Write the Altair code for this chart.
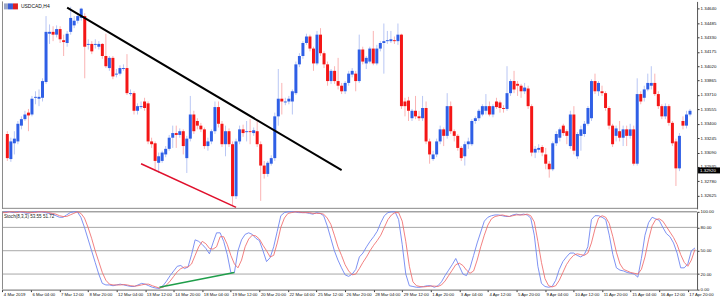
import json
import altair as alt
import pandas as pd

# ---------------- data ----------------
OPEN = [1.3329,1.3302,1.3319,1.3321,1.3338,1.3345,1.3352,1.3350,1.3368,1.3367,
1.3368,1.3385,1.3437,1.3439,1.3436,1.3442,1.3430,1.3427,1.3439,1.3446,
1.3451,1.3454,1.3456,1.3425,1.3426,1.3425,1.3423,1.3426,1.3413,1.3400,
1.3411,1.3393,1.3394,1.3399,1.3400,1.3372,1.3373,1.3354,1.3358,1.3364,
1.3362,1.3321,1.3319,1.3298,1.3300,1.3307,1.3313,1.3325,1.3330,1.3328,
1.3332,1.3303,1.3324,1.3350,1.3343,1.3338,1.3334,1.3316,1.3321,1.3332,
1.3358,1.3340,1.3318,1.3332,1.3318,1.3262,1.3321,1.3334,1.3331,1.3332,
1.3330,1.3332,1.3318,1.3295,1.3286,1.3297,1.3303,1.3348,1.3367,1.3363,
1.3364,1.3364,1.3373,1.3404,1.3413,1.3427,1.3434,1.3421,1.3405,1.3436,
1.3416,1.3404,1.3386,1.3397,1.3386,1.3381,1.3375,1.3384,1.3393,1.3394,
1.3386,1.3420,1.3405,1.3407,1.3421,1.3405,1.3421,1.3427,1.3429,1.3429,
1.3430,1.3429,1.3436,1.3364,1.3365,1.3346,1.3354,1.3348,1.3346,1.3357,
1.3321,1.3302,1.3307,1.3321,1.3334,1.3327,1.3359,1.3332,1.3327,1.3314,
1.3305,1.3318,1.3318,1.3343,1.3346,1.3350,1.3354,1.3359,1.3350,1.3364,
1.3363,1.3357,1.3356,1.3373,1.3386,1.3383,1.3381,1.3375,1.3378,1.3359,
1.3309,1.3312,1.3315,1.3307,1.3297,1.3291,1.3319,1.3325,1.3338,1.3332,
1.3316,1.3350,1.3305,1.3327,1.3329,1.3340,1.3346,1.3386,1.3375,1.3375,
1.3373,1.3357,1.3338,1.3327,1.3332,1.3325,1.3334,1.3327,1.3334,1.3297,
1.3372,1.3368,1.3377,1.3381,1.3384,1.3372,1.3359,1.3348,1.3359,1.3341,
1.3321,1.3292,1.3343,1.3338,1.3350]

HIGH = [1.3332,1.3325,1.3332,1.3343,1.3348,1.3354,1.3356,1.3370,1.3375,1.3377,
1.3389,1.3456,1.3447,1.3445,1.3446,1.3445,1.3436,1.3440,1.3466,1.3456,
1.3459,1.3465,1.3459,1.3431,1.3429,1.3431,1.3429,1.3427,1.3437,1.3413,
1.3413,1.3399,1.3403,1.3404,1.3415,1.3377,1.3375,1.3362,1.3364,1.3368,
1.3364,1.3325,1.3321,1.3309,1.3311,1.3316,1.3328,1.3338,1.3338,1.3335,
1.3334,1.3327,1.3370,1.3354,1.3346,1.3341,1.3336,1.3325,1.3334,1.3364,
1.3364,1.3343,1.3338,1.3335,1.3321,1.3324,1.3338,1.3339,1.3343,1.3345,
1.3336,1.3343,1.3321,1.3300,1.3300,1.3306,1.3352,1.3399,1.3384,1.3368,
1.3370,1.3377,1.3407,1.3416,1.3429,1.3437,1.3436,1.3423,1.3440,1.3443,
1.3418,1.3407,1.3399,1.3402,1.3411,1.3384,1.3386,1.3397,1.3400,1.3397,
1.3436,1.3423,1.3413,1.3423,1.3440,1.3425,1.3429,1.3448,1.3440,1.3440,
1.3434,1.3448,1.3437,1.3368,1.3369,1.3356,1.3370,1.3354,1.3370,1.3364,
1.3324,1.3311,1.3324,1.3338,1.3336,1.3373,1.3364,1.3334,1.3329,1.3316,
1.3321,1.3325,1.3345,1.3348,1.3356,1.3361,1.3372,1.3364,1.3361,1.3368,
1.3365,1.3360,1.3402,1.3388,1.3397,1.3386,1.3383,1.3384,1.3381,1.3361,
1.3316,1.3318,1.3317,1.3314,1.3300,1.3321,1.3332,1.3336,1.3340,1.3334,
1.3354,1.3359,1.3331,1.3338,1.3343,1.3359,1.3388,1.3394,1.3386,1.3381,
1.3375,1.3359,1.3340,1.3338,1.3343,1.3338,1.3338,1.3340,1.3338,1.3389,
1.3375,1.3381,1.3394,1.3402,1.3394,1.3375,1.3361,1.3362,1.3361,1.3343,
1.3324,1.3330,1.3348,1.3354,1.3356]

LOW = [1.3300,1.3299,1.3307,1.3318,1.3334,1.3343,1.3332,1.3348,1.3361,1.3359,
1.3364,1.3383,1.3426,1.3429,1.3433,1.3427,1.3413,1.3423,1.3436,1.3443,
1.3448,1.3451,1.3389,1.3420,1.3415,1.3421,1.3420,1.3410,1.3400,1.3397,
1.3388,1.3390,1.3392,1.3397,1.3371,1.3370,1.3350,1.3350,1.3356,1.3354,
1.3318,1.3314,1.3289,1.3287,1.3298,1.3304,1.3311,1.3314,1.3314,1.3325,
1.3307,1.3287,1.3321,1.3329,1.3334,1.3331,1.3313,1.3311,1.3318,1.3329,
1.3336,1.3315,1.3305,1.3315,1.3252,1.3259,1.3318,1.3326,1.3321,1.3318,
1.3327,1.3315,1.3257,1.3281,1.3283,1.3295,1.3300,1.3338,1.3350,1.3360,
1.3361,1.3350,1.3371,1.3401,1.3410,1.3425,1.3418,1.3397,1.3403,1.3413,
1.3400,1.3381,1.3383,1.3383,1.3377,1.3372,1.3372,1.3381,1.3390,1.3375,
1.3384,1.3404,1.3399,1.3405,1.3403,1.3403,1.3418,1.3394,1.3426,1.3427,
1.3426,1.3425,1.3356,1.3348,1.3343,1.3343,1.3345,1.3343,1.3343,1.3318,
1.3297,1.3300,1.3304,1.3318,1.3316,1.3324,1.3329,1.3321,1.3311,1.3300,
1.3295,1.3313,1.3316,1.3340,1.3343,1.3348,1.3350,1.3348,1.3347,1.3356,
1.3352,1.3352,1.3354,1.3370,1.3373,1.3370,1.3368,1.3372,1.3356,1.3305,
1.3303,1.3309,1.3305,1.3291,1.3282,1.3289,1.3316,1.3321,1.3327,1.3318,
1.3313,1.3307,1.3302,1.3311,1.3326,1.3338,1.3343,1.3372,1.3370,1.3370,
1.3354,1.3334,1.3315,1.3321,1.3321,1.3316,1.3316,1.3324,1.3295,1.3295,
1.3361,1.3364,1.3375,1.3377,1.3370,1.3356,1.3345,1.3345,1.3338,1.3316,
1.3273,1.3289,1.3334,1.3335,1.3348]

CLOSE = [1.3303,1.3321,1.3324,1.3340,1.3345,1.3350,1.3349,1.3367,1.3369,1.3369,
1.3386,1.3439,1.3439,1.3436,1.3442,1.3431,1.3428,1.3437,1.3454,1.3451,
1.3456,1.3464,1.3423,1.3426,1.3418,1.3426,1.3426,1.3413,1.3402,1.3411,
1.3391,1.3394,1.3400,1.3400,1.3373,1.3373,1.3354,1.3359,1.3359,1.3357,
1.3321,1.3318,1.3300,1.3305,1.3309,1.3313,1.3325,1.3330,1.3328,1.3332,
1.3316,1.3324,1.3350,1.3332,1.3338,1.3334,1.3316,1.3321,1.3332,1.3358,
1.3340,1.3318,1.3332,1.3318,1.3262,1.3321,1.3334,1.3330,1.3332,1.3331,
1.3333,1.3318,1.3295,1.3286,1.3298,1.3303,1.3348,1.3367,1.3364,1.3364,
1.3367,1.3375,1.3404,1.3413,1.3427,1.3434,1.3421,1.3405,1.3436,1.3416,
1.3404,1.3386,1.3397,1.3386,1.3381,1.3375,1.3384,1.3394,1.3397,1.3386,
1.3420,1.3407,1.3411,1.3421,1.3405,1.3421,1.3427,1.3429,1.3430,1.3431,
1.3429,1.3436,1.3359,1.3359,1.3354,1.3354,1.3348,1.3346,1.3357,1.3321,
1.3307,1.3307,1.3321,1.3334,1.3327,1.3359,1.3332,1.3327,1.3314,1.3303,
1.3318,1.3321,1.3343,1.3346,1.3354,1.3359,1.3359,1.3350,1.3359,1.3358,
1.3357,1.3356,1.3373,1.3386,1.3377,1.3381,1.3375,1.3379,1.3359,1.3309,
1.3313,1.3314,1.3309,1.3297,1.3291,1.3319,1.3329,1.3334,1.3330,1.3327,
1.3350,1.3311,1.3329,1.3334,1.3340,1.3357,1.3386,1.3375,1.3384,1.3373,
1.3357,1.3338,1.3318,1.3335,1.3325,1.3334,1.3327,1.3334,1.3297,1.3372,
1.3364,1.3377,1.3384,1.3384,1.3372,1.3359,1.3348,1.3359,1.3341,1.3319,
1.3292,1.3327,1.3338,1.3350,1.3354]

STOCH_K = [99,100,100,99,100,100,99,98,99,100,
100,100,99,98,97,95,93,93,96,99,
100,100,93,80,65,50,35,20,8,6,
6,5,6,7,6,5,4,4,6,8,
7,5,3,2,1.5,5,11,18,24,30,
31,27,29,45,64,62,58,53,46,60,
73,73,62,45,22,22,50,64,71,73,
71,66,63,50,36,41,55,75,95,99,
100,100,100,99,99,99,98,97,99,98,
95,82,66,50,38,28,19,17,20,26,
42,47,55,62,68,75,86,95,99,100,
100,90,58,20,5,4,3,3,4,5,
5,3,5,10,18,25,32,40,30,20,
18,28,44,60,74,88,93,95,96,96,
95,94,94,96,97,96,97,96,92,70,
30,8,4,3,4,12,26,36,42,47,
47,44,42,45,55,90,95,95,93,90,
70,45,28,25,24,22,21,20,16,40,
70,86,93,91,89,80,72,68,60,47,
28,28,33,50,53.55]

STOCH_D = [99,99,100,100,99,100,100,99,99,99,
100,100,100,99,98,97,95,94,94,96,
98,100,98,92,80,66,50,36,22,12,
7,6,6,6,6.5,6,5,4.5,5,6,
7,7,5,3.5,2,3,6,11,17,23,
27,29,29,33,44,55,62,59,53,52,
55,68,68,58,44,33,28,38,55,65,
70,69,65,57,50,42,44,60,80,92,
98,99,100,100,99,99,99,98,98,98,
97,92,84,70,55,44,32,24,19,20,
27,35,42,50,57,63,70,80,90,96,
99,99,88,62,30,10,5,4,3.5,4,
4.5,4.5,4,6,11,18,25,32,34,31,
25,21,24,38,55,70,83,91,94,95,
96,95,94,95,96,96,96,97,95,87,
62,35,14,5,3.5,5,12,22,32,39,
44,46,45,44,47,60,78,92,95,93,
85,68,48,33,26,24,22,21,20,26,
42,64,82,90,91,88,81,74,67,58,
45,35,30,38,51.72]

X_TICK_LABELS = ["4 Mar 2019", "6 Mar 04:00", "7 Mar 12:00", "8 Mar 20:00",
                 "12 Mar 04:00", "13 Mar 12:00", "14 Mar 20:00", "18 Mar 04:00",
                 "19 Mar 12:00", "20 Mar 20:00", "22 Mar 04:00", "25 Mar 12:00",
                 "26 Mar 20:00", "28 Mar 04:00", "29 Mar 12:00", "1 Apr 20:00",
                 "3 Apr 04:00", "4 Apr 12:00", "5 Apr 20:00", "9 Apr 04:00",
                 "10 Apr 12:00", "11 Apr 20:00", "15 Apr 04:00", "16 Apr 12:00",
                 "17 Apr 20:00"]
X_TICK_STEP = 8  # bars between date labels

PRICE_TICKS = [1.32625, 1.32780, 1.32935, 1.33090, 1.33245, 1.33400, 1.33555,
               1.33710, 1.33865, 1.34020, 1.34175, 1.34330, 1.34485, 1.34640]
STOCH_TICKS = [0, 20, 50, 80, 100]
STOCH_LEVELS = [20, 50, 80]

BLACK_LINE_BAR = [17, 95]
BLACK_LINE_PRICE = [1.3465, 1.3290]
RED_LINE_BAR = [38, 65]
RED_LINE_PRICE = [1.3297, 1.3250]
GREEN_LINE_BAR = [44, 65]
GREEN_LINE_VALUE = [3, 22]

SYMBOL = "USDCAD,H4"
STOCH_TITLE = "Stoch(8,3,3) 53.55 51.72"
PRICE_TAG = "1.32920"

# ---------------- styling ----------------
W = 697
H_MAIN = 208
H_STO = 78
FONT = "Liberation Sans"
BULL = "#2f5fe6"
BEAR = "#f41616"
BULL_WICK = "#b9c7f4"
BEAR_WICK = "#fab3b3"

n = len(CLOSE)
df = pd.DataFrame({"i": list(range(n)), "open": OPEN, "high": HIGH,
                   "low": LOW, "close": CLOSE, "k": STOCH_K, "d": STOCH_D})

xscale = alt.Scale(domain=[-0.1, 194.59], nice=False, zero=False)
yscale = alt.Scale(domain=[1.32484, 1.34718], nice=False, zero=False)
sscale = alt.Scale(domain=[0, 100], nice=False, zero=False)

price_axis = alt.Axis(orient="right", values=PRICE_TICKS, format=".5f",
                      labelFontSize=4.4, labelFont=FONT, labelColor="#111",
                      tickSize=2, tickColor="#333", domainColor="#555",
                      labelPadding=1, grid=False, title=None,
                      labelOverlap=False, labelBound=False)


def px(field):
    return alt.X(field, scale=xscale, axis=None)


def py(field):
    return alt.Y(field, scale=yscale, axis=price_axis)


base = alt.Chart(df)
up_cond = "datum.close >= datum.open"

wicks = base.mark_rule(strokeWidth=1).encode(
    x=px("i:Q"), y=py("low:Q"), y2="high:Q",
    color=alt.condition(up_cond, alt.value(BULL_WICK), alt.value(BEAR_WICK)),
)
bodies = base.mark_bar(size=3).encode(
    x=px("i:Q"), y=py("open:Q"), y2="close:Q",
    color=alt.condition(up_cond, alt.value(BULL), alt.value(BEAR)),
)

black_line = alt.Chart(pd.DataFrame({"i": BLACK_LINE_BAR, "low": BLACK_LINE_PRICE})).mark_line(
    color="#000000", strokeWidth=2).encode(x=px("i:Q"), y=py("low:Q"))
red_line = alt.Chart(pd.DataFrame({"i": RED_LINE_BAR, "low": RED_LINE_PRICE})).mark_line(
    color="#e0102c", strokeWidth=1.5).encode(x=px("i:Q"), y=py("low:Q"))

frame_df = pd.DataFrame({"a": [0]})
left_edge = alt.Chart(frame_df).mark_rule(color="#8a8a8a").encode(
    x=alt.value(0.5), y=alt.value(0), y2=alt.value(H_MAIN))
bottom_edge = alt.Chart(frame_df).mark_rule(color="#8a8a8a").encode(
    x=alt.value(0), x2=alt.value(W), y=alt.value(H_MAIN - 0.5))

icon_df = pd.DataFrame({"c": ["#9aa6c8", "#3a5fd8", "#e02020"],
                        "x0": [2, 6, 11], "x1": [6, 11, 16]})
icon = alt.Chart(icon_df).mark_rect().encode(
    x=alt.X("x0:Q", scale=None), x2="x1:Q",
    y=alt.value(2), y2=alt.value(8),
    color=alt.Color("c:N", scale=None, legend=None))

symbol_text = alt.Chart(pd.DataFrame({"t": [SYMBOL]})).mark_text(
    align="left", baseline="middle", fontSize=5, font=FONT, color="#111").encode(
    x=alt.value(19), y=alt.value(5), text="t:N")

tag_box = alt.Chart(frame_df).mark_rect(color="#000000").encode(
    x=alt.value(W + 1), x2=alt.value(W + 23), y=alt.value(166.5), y2=alt.value(172.5))
tag_text = alt.Chart(pd.DataFrame({"t": [PRICE_TAG]})).mark_text(
    align="left", baseline="middle", fontSize=4.4, font=FONT, color="#ffffff").encode(
    x=alt.value(W + 3), y=alt.value(169.6), text="t:N")

main = alt.layer(wicks, bodies, black_line, red_line, left_edge, bottom_edge, icon,
                 symbol_text, tag_box, tag_text).properties(width=W, height=H_MAIN)

# ---------------- stochastic panel ----------------
label_expr = json.dumps(X_TICK_LABELS) + "[round(datum.value / %d)]" % X_TICK_STEP
x_axis = alt.Axis(values=[k * X_TICK_STEP for k in range(len(X_TICK_LABELS))],
                  labelExpr=label_expr, labelAlign="left", labelBaseline="top",
                  labelFontSize=4.3, labelFont=FONT, labelColor="#111",
                  labelPadding=0.5, labelOffset=1, tickSize=2,
                  tickColor="#333", domainColor="#666", grid=False, title=None,
                  labelOverlap=False, labelFlush=False, labelBound=False)
stoch_axis = alt.Axis(orient="right", values=STOCH_TICKS, format=".2f",
                      labelFontSize=4.4, labelFont=FONT, labelColor="#111",
                      tickSize=2, tickColor="#333", domainColor="#555",
                      labelPadding=1, grid=False, title=None,
                      labelOverlap=False, labelBound=False)


def sx(field):
    return alt.X(field, scale=xscale, axis=x_axis)


def sy(field):
    return alt.Y(field, scale=sscale, axis=stoch_axis)


levels = alt.Chart(pd.DataFrame({"k": STOCH_LEVELS})).mark_rule(
    color="#a8a8a8", strokeWidth=1).encode(y=sy("k:Q"))
top_level = alt.Chart(pd.DataFrame({"k": [100]})).mark_rule(
    color="#777777", strokeWidth=1).encode(y=sy("k:Q"))

sbase = alt.Chart(df)
k_line = sbase.mark_line(color="#6f86f2", strokeWidth=1, opacity=0.9).encode(
    x=sx("i:Q"), y=sy("k:Q"))
d_line = sbase.mark_line(color="#f06a6a", strokeWidth=1, opacity=0.85).encode(
    x=sx("i:Q"), y=sy("d:Q"))
green_line = alt.Chart(pd.DataFrame({"i": GREEN_LINE_BAR, "k": GREEN_LINE_VALUE})).mark_line(
    color="#1f9e4a", strokeWidth=1.5).encode(x=sx("i:Q"), y=sy("k:Q"))
s_left = alt.Chart(frame_df).mark_rule(color="#8a8a8a").encode(
    x=alt.value(0.5), y=alt.value(0), y2=alt.value(H_STO))
stoch_text = alt.Chart(pd.DataFrame({"t": [STOCH_TITLE]})).mark_text(
    align="left", baseline="middle", fontSize=4.6, font=FONT, color="#222").encode(
    x=alt.value(2), y=alt.value(5), text="t:N")

stoch = alt.layer(levels, top_level, k_line, d_line, green_line, s_left,
                  stoch_text).properties(width=W, height=H_STO)

chart = alt.vconcat(main, stoch, spacing=3, bounds="flush").properties(
    padding=0, background="#ffffff"
).configure_view(stroke=None).configure_axis(labelOverlap=False)

chart.save("out.html", embed_options={"renderer": "svg", "actions": False})
